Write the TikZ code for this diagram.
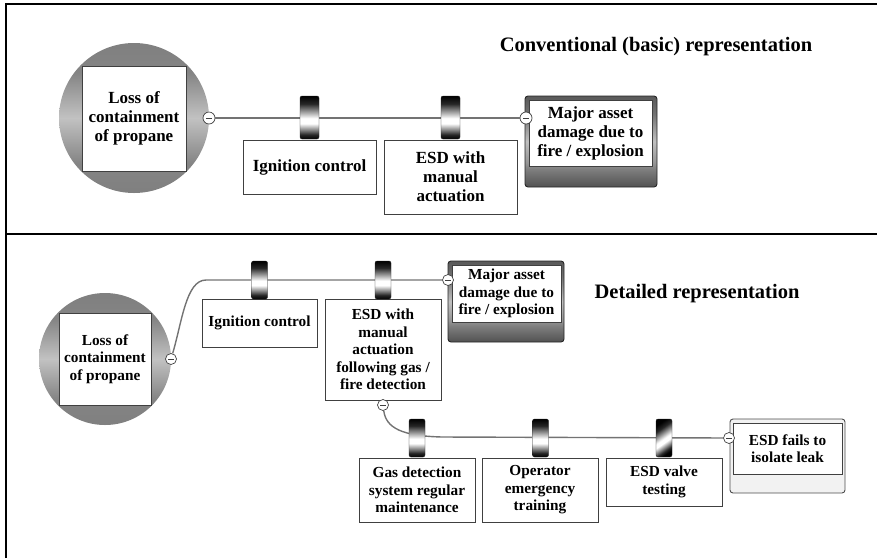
\documentclass[tikz,border=0pt]{standalone}
\usepackage{fontspec}
\setmainfont{Liberation Serif}
% TikZ fits the 25bp..75bp part of a 100bp shading onto the filled path
% shading of the hazard discs: flat grey with a lighter band across the middle
\pgfdeclareverticalshading{hazardshade}{100bp}{color(0bp)=(black!50); color(25bp)=(black!50); color(35bp)=(black!48); color(50bp)=(black!24); color(65bp)=(black!48); color(75bp)=(black!50); color(100bp)=(black!50)}
% shading of the frame round a top event / consequence
\pgfdeclareverticalshading{consshade}{100bp}{color(0bp)=(black!68); color(25bp)=(black!68); color(35bp)=(black!50); color(38bp)=(black!42); color(50bp)=(black!25); color(65bp)=(black!55); color(75bp)=(black!65); color(100bp)=(black!65)}
% shading of a barrier: black ends, bright band just below the middle
\pgfdeclareverticalshading{barriershade}{100bp}{color(0bp)=(black); color(25bp)=(black); color(30bp)=(black!85); color(43bp)=(white); color(49bp)=(white); color(66bp)=(black!85); color(75bp)=(black); color(100bp)=(black)}
\begin{document}
\begin{tikzpicture}[x=1pt,y=-1pt,
  frame/.style={line width=2pt, black},
  conn/.style={draw=black!55, line width=1.4pt},
  ctrl/.style={rectangle, draw=black!75, line width=0.9pt, fill=white, inner sep=0pt,
    align=center, font=\bfseries\fontsize{17}{19}\selectfont},
  ctrlsm/.style={ctrl, font=\bfseries\fontsize{15.3}{17.6}\selectfont},
  hazard/.style={circle, inner sep=0pt, shading=hazardshade},
  consout/.style={rectangle, inner sep=0pt, rounded corners=3pt, draw=black!85,
    line width=0.9pt, shading=consshade},
  conslight/.style={rectangle, inner sep=0pt, rounded corners=3pt, draw=black!70,
    line width=0.9pt, fill=black!5},
  barrier/.style={rectangle, inner sep=0pt, rounded corners=2pt, draw=black!85,
    line width=0.4pt, shading=barriershade},
  minus/.style={circle, draw=black!75, fill=white, line width=0.7pt, inner sep=0pt,
    minimum size=#1,
    path picture={\draw[line width=0.9pt]
      ([xshift=-0.25*#1]path picture bounding box.center) --
      ([xshift=0.25*#1]path picture bounding box.center);}},
  minus/.default=12pt,
  title/.style={font=\bfseries\fontsize{20.5}{24}\selectfont}
]
\useasboundingbox (0,0) rectangle (877,558);

% panel frame
\draw[frame] (6,558) -- (6,4) -- (877,4);
\draw[frame] (6,234) -- (877,234);

% ---------- conventional (basic) representation ----------
\node[title] (t1) at (656,47) {Conventional (basic) representation};

\node[hazard, minimum size=150pt] (haz1) at (134,118) {};
\node[ctrl, minimum width=104pt, minimum height=105pt] (top1) at (134,118.5)
  {Loss of\\containment\\of propane};

\node[consout, minimum width=132pt, minimum height=91pt] (c1) at (591,141.5) {};
\node[ctrl, minimum width=123pt, minimum height=66pt] (c1t) at (590.5,133)
  {Major asset\\damage due to\\fire / explosion};

\node[minus] (m1) at (209,118) {};
\node[minus] (m2) at (526,118) {};
\draw[conn] (m1) -- (m2);

\node[ctrl, minimum width=133pt, minimum height=54pt] (ic1) at (309.5,167) {Ignition control};
\node[ctrl, minimum width=133pt, minimum height=74pt] (esd1) at (450.5,177)
  {ESD with\\manual\\actuation};

\node[barrier, minimum width=19pt, minimum height=43pt] (b1) at (309.5,117.5) {};
\node[barrier, minimum width=19pt, minimum height=43pt] (b2) at (450.5,117.5) {};

% ---------- detailed representation ----------
\node[title] (t2) at (697,294) {Detailed representation};

\node[hazard, minimum size=132pt] (haz2) at (105,359) {};
\node[ctrlsm, minimum width=92pt, minimum height=92pt] (top2) at (105,359)
  {Loss of\\containment\\of propane};

\node[consout, minimum width=116pt, minimum height=81pt] (c2) at (506,301.5) {};
\node[ctrlsm, minimum width=109pt, minimum height=57pt] (c2t) at (506.5,293.5)
  {Major asset\\damage due to\\fire / explosion};

\node[conslight, minimum width=115pt, minimum height=74pt] (c3) at (787.5,456) {};
\node[ctrlsm, minimum width=109pt, minimum height=51pt] (c3t) at (787.5,448.5)
  {ESD fails to\\isolate leak};

\node[ctrlsm, minimum width=115pt, minimum height=48pt] (ic2) at (259.5,323) {Ignition control};
\node[ctrlsm, minimum width=116pt, minimum height=101pt] (esd2) at (383,349.5)
  {ESD with\\manual\\actuation\\following gas /\\fire detection};
\node[ctrlsm, minimum width=116pt, minimum height=64pt] (gd) at (417,490)
  {Gas detection\\system regular\\maintenance};
\node[ctrlsm, minimum width=116pt, minimum height=64pt] (op) at (540,490)
  {Operator\\emergency\\training};
\node[ctrlsm, minimum width=116pt, minimum height=48pt] (ev) at (664,482)
  {ESD valve\\testing};

\node[minus=11pt] (m3) at (171,359) {};
\node[minus=11pt] (m4) at (448,280) {};
\node[minus=11pt] (m5) at (383,405) {};
\node[minus=11pt] (m6) at (729,438) {};

\coordinate (k1) at (206,280);
\coordinate (k2) at (442,437);
\draw[conn] (m3) .. controls (182,322) and (186,280) .. (k1) -- (m4);
\draw[conn] (m5) .. controls (386,428) and (402,436) .. (k2) -- (m6);

\node[barrier, minimum width=16pt, minimum height=38pt] (b3) at (259.5,280) {};
\node[barrier, minimum width=16pt, minimum height=38pt] (b4) at (383,280) {};
\node[barrier, minimum width=16pt, minimum height=38pt] (b5) at (417,438) {};
\node[barrier, minimum width=16pt, minimum height=38pt] (b6) at (540.5,438) {};
\node[barrier, minimum width=16pt, minimum height=38pt, shading angle=35] (b7) at (664,438) {};
\end{tikzpicture}
\end{document}
